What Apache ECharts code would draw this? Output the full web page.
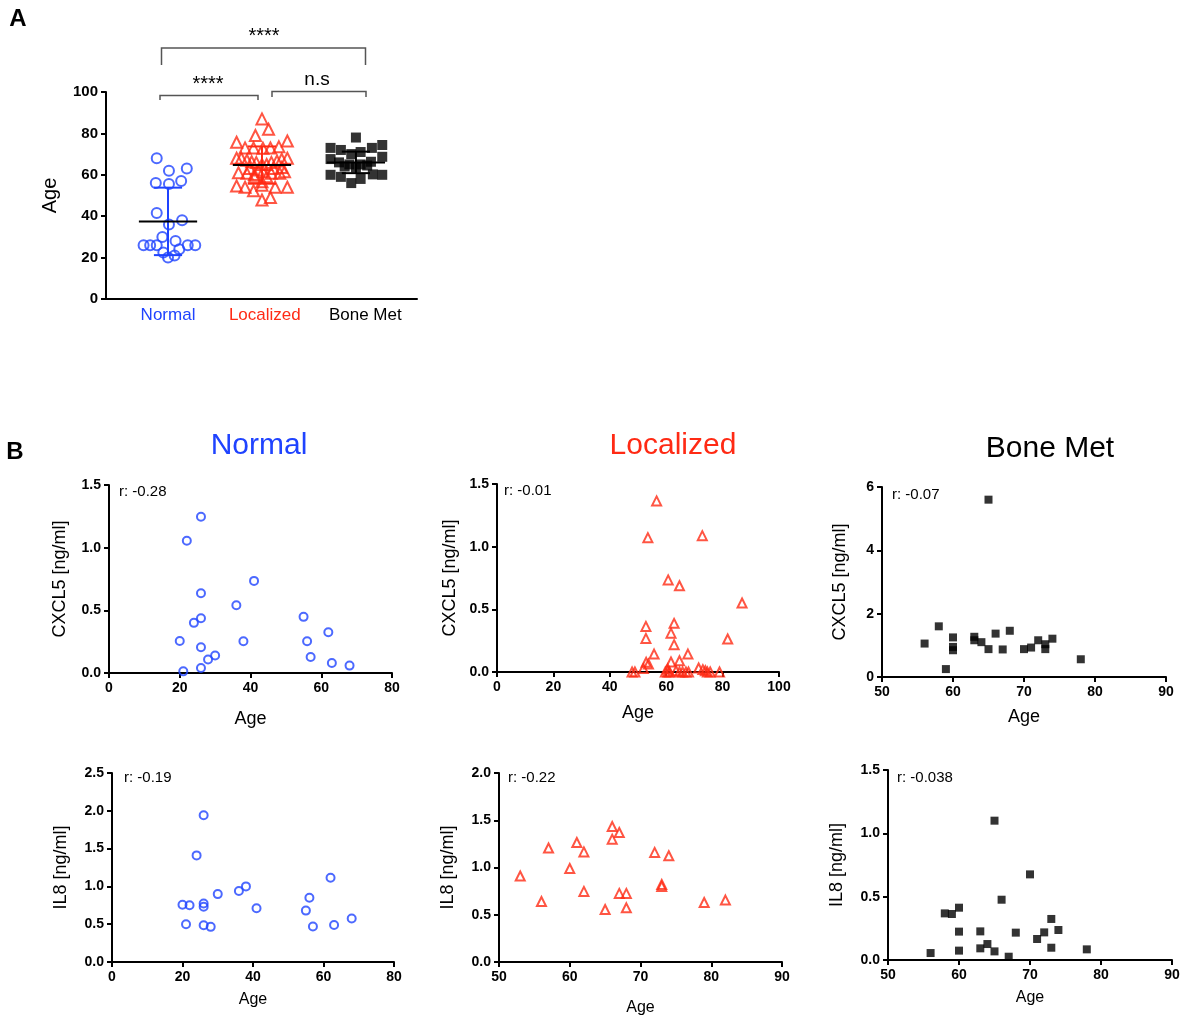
<!DOCTYPE html>
<html><head><meta charset="utf-8">
<script src="https://cdn.jsdelivr.net/npm/echarts@6/dist/echarts.min.js"></script>
<style>html,body{margin:0;padding:0;background:#fff}#c{width:1183px;height:1017px}</style>
</head><body><div id="c"></div>
<script>
// ---------- DATA ----------
const groupNames = ['Normal', 'Localized', 'Bone Met'];
// Panel A: ages per group and horizontal jitter (category units)
const normalAge = [68,62,63,56,55.5,57,41.5,36,38,30,28,26,26,26,26,26,22.5,24,20,21];
const normalJit = [-0.12,0.01,0.2,-0.13,0.01,0.14,-0.12,0.01,0.15,-0.06,0.08,-0.26,-0.19,-0.12,0.21,0.29,-0.05,0.12,0,0.07];
const localizedAge = [87,82,79,75.7,76.3,73,73,72.8,73,73.5,68,68,68,67,67.5,66.3,66.7,65.9,66,65,65,61,60.7,60.2,61.5,60.7,60.7,61.5,59,59,56.7,54.6,54,52.3,54,54,55,47.8,49,63.1,63.1,62.3,63.5];
const localizedJit = [0,0.07,-0.07,-0.27,0.27,-0.18,-0.09,0.01,0.09,0.18,-0.27,-0.22,0.27,-0.16,0.21,-0.11,0.16,-0.06,0.1,0,0.05,-0.25,-0.16,-0.08,0.01,0.1,0.19,0.24,-0.08,0.05,0,-0.27,-0.18,-0.09,0.14,0.27,0,0,0.09,-0.13,0.12,-0.04,0.21];
const boneAge = [78,73,72,70,71,73,74.4,67.6,66,65,65,66.3,68.7,63.5,64.5,64,60,59,56,58,60.2,60];
const boneJit = [0,-0.27,-0.16,-0.05,0.05,0.17,0.28,-0.27,-0.18,-0.07,0.05,0.16,0.28,0,0.12,-0.12,-0.27,-0.16,-0.05,0.05,0.18,0.28];
const groupMean = [37.5, 64.7, 66.0];
const groupSD = [16.3, 9.0, 5.2];
const sigLabels = ['****', '****', 'n.s'];
// Panel B: [age, concentration ng/ml]
const normalCxcl5 = [[20,0.256],[21,0.013],[22,1.055],[24,0.40],[26,1.247],[26,0.637],[26,0.437],[26,0.205],[26,0.04],[28,0.107],[30,0.139],[36,0.54],[38,0.253],[41,0.735],[55,0.448],[56,0.253],[57,0.128],[62,0.325],[63,0.08],[68,0.059]];
const localizedCxcl5 = [[56.6,1.365],[53.5,1.072],[72.8,1.088],[60.7,0.735],[64.7,0.688],[86.9,0.55],[52.8,0.364],[62.8,0.388],[61.7,0.31],[52.8,0.268],[81.8,0.263],[62.8,0.218],[55.7,0.143],[67.7,0.143],[61.7,0.08],[64.7,0.09],[52.9,0.077],[53.7,0.064],[51.9,0.027],[71.5,0.032],[73,0.019],[73.9,0.01],[75.6,0],[47.9,0],[48.9,0],[59.7,0],[60.6,0],[61.2,0],[63.5,0.01],[64.7,0],[65.8,0],[67,0],[67.9,0],[74.6,0],[78.9,0],[60.5,0.024]];
const boneCxcl5 = [[56,1.056],[58,1.6],[59,0.25],[60,1.25],[60,0.95],[60,0.845],[63,1.27],[63,1.16],[64,1.1],[65,5.6],[65,0.88],[66,1.37],[67,0.87],[68,1.46],[70,0.88],[71,0.93],[72,1.16],[73,1.035],[73,0.88],[74,1.21],[78,0.56]];
const normalIl8 = [[20,0.757],[22,0.75],[21,0.5],[24,1.41],[26,1.94],[26,0.774],[26,0.73],[26,0.487],[28,0.465],[30,0.898],[36,0.94],[38,1.0],[41,0.71],[55,0.68],[56,0.85],[57,0.47],[62,1.115],[63,0.49],[68,0.575]];
const localizedIl8 = [[53,0.91],[56,0.64],[57,1.207],[60,0.99],[61,1.264],[62,1.165],[62,0.747],[65,0.556],[66,1.434],[66,1.30],[67,1.37],[67,0.726],[68,0.726],[68,0.573],[72,1.16],[74,1.125],[73,0.82],[73,0.80],[79,0.63],[82,0.655]];
const boneIl8 = [[56,0.055],[58,0.368],[59,0.363],[60,0.413],[60,0.224],[60,0.074],[63,0.226],[63,0.092],[64,0.126],[65,1.10],[65,0.068],[66,0.476],[67,0.026],[68,0.216],[70,0.676],[71,0.166],[72,0.218],[73,0.324],[73,0.097],[74,0.237],[78,0.084]];
const rValues = ['-0.28', '-0.01', '-0.07', '-0.19', '-0.22', '-0.038'];

// ---------- STYLE ----------
const FONT = '"Liberation Sans", Arial, Helvetica, sans-serif';
const BLUE = '#1f43ff', RED = '#ff2a14', BLACK = '#000';
const groupColors = [BLUE, RED, BLACK];

const chart = echarts.init(document.getElementById('c'));

const axisLine = {show: true, onZero: false, lineStyle: {color: '#000', width: 2}};
const axisTick = {show: true, inside: false, length: 5, lineStyle: {color: '#000', width: 2}};
const lblStyle = {color: '#000', fontWeight: 'bold', fontSize: 14, fontFamily: FONT, margin: 8};

const grids = [
  {left: 106, top: 92, width: 311, height: 207},
  {left: 109, top: 485, width: 283, height: 188},
  {left: 497, top: 484, width: 282, height: 188},
  {left: 882, top: 487, width: 284, height: 190},
  {left: 112, top: 773, width: 282, height: 189},
  {left: 499, top: 773, width: 283, height: 189},
  {left: 888, top: 770, width: 284, height: 190}
];

function xAx(gi, min, max, interval, gap, fs) {
  return {type: 'value', gridIndex: gi, min, max, interval, name: 'Age', nameLocation: 'middle', nameGap: gap,
    nameTextStyle: {color: '#000', fontSize: fs, fontFamily: FONT},
    axisLine, axisTick, axisLabel: lblStyle, splitLine: {show: false}};
}
function yAx(gi, max, interval, name, gap, dec) {
  return {type: 'value', gridIndex: gi, min: 0, max, interval, name, nameLocation: 'middle', nameGap: gap,
    nameTextStyle: {color: '#000', fontSize: 18, fontFamily: FONT},
    axisLine, axisTick, splitLine: {show: false},
    axisLabel: Object.assign({}, lblStyle, {formatter: v => dec ? v.toFixed(1) : String(v)})};
}

const xAxes = [
  {type: 'value', gridIndex: 0, min: -0.66, max: 2.65, axisLine, axisTick: {show: false}, splitLine: {show: false},
   axisLabel: {customValues: [0, 1.03, 2.1], margin: 8, fontSize: 17, fontFamily: FONT,
     formatter: v => { const i = Math.round(v); return '{g' + i + '|' + groupNames[i] + '}'; },
     rich: {g0: {color: BLUE, fontSize: 17, fontFamily: FONT}, g1: {color: RED, fontSize: 17, fontFamily: FONT}, g2: {color: BLACK, fontSize: 17, fontFamily: FONT}}}},
  xAx(1, 0, 80, 20, 37, 18),
  xAx(2, 0, 100, 20, 32, 18),
  xAx(3, 50, 90, 10, 31, 18),
  xAx(4, 0, 80, 20, 30, 16),
  xAx(5, 50, 90, 10, 38, 16),
  xAx(6, 50, 90, 10, 30, 16)
];
const yAxes = [
  {type: 'value', gridIndex: 0, min: 0, max: 100, interval: 20, name: 'Age', nameLocation: 'middle', nameGap: 46,
   nameTextStyle: {color: '#000', fontSize: 20, fontFamily: FONT},
   axisLine, axisTick, splitLine: {show: false}, axisLabel: Object.assign({}, lblStyle, {fontSize: 15})},
  yAx(1, 1.5, 0.5, 'CXCL5 [ng/ml]', 40, true),
  yAx(2, 1.5, 0.5, 'CXCL5 [ng/ml]', 38, true),
  yAx(3, 6, 2, 'CXCL5 [ng/ml]', 33, false),
  yAx(4, 2.5, 0.5, 'IL8 [ng/ml]', 42, true),
  yAx(5, 2.0, 0.5, 'IL8 [ng/ml]', 42, true),
  yAx(6, 1.5, 0.5, 'IL8 [ng/ml]', 42, true)
];

const hollow = c => ({color: 'rgba(0,0,0,0)', borderColor: c, borderWidth: 2});
function jitterData(ages, jit, gi) { return ages.map((a, k) => [gi + jit[k], a]); }

const series = [
  {type: 'scatter', xAxisIndex: 0, yAxisIndex: 0, symbol: 'circle', symbolSize: 10, itemStyle: hollow(BLUE), data: jitterData(normalAge, normalJit, 0)},
  {type: 'scatter', xAxisIndex: 0, yAxisIndex: 0, symbol: 'triangle', symbolSize: 11, itemStyle: hollow(RED), data: jitterData(localizedAge, localizedJit, 1)},
  {type: 'scatter', xAxisIndex: 0, yAxisIndex: 0, symbol: 'rect', symbolSize: 10, itemStyle: {color: BLACK}, data: jitterData(boneAge, boneJit, 2)},
  {type: 'custom', xAxisIndex: 0, yAxisIndex: 0, z: 10,
   data: groupMean.map((m, i) => [i, m, groupSD[i]]),
   renderItem: (params, api) => {
     const i = api.value(0), m = api.value(1), sd = api.value(2);
     const c = groupColors[i];
     const p = (x, y) => api.coord([x, y]);
     const line = (a, b, col) => ({type: 'line', shape: {x1: a[0], y1: a[1], x2: b[0], y2: b[1]}, style: {stroke: col, lineWidth: 2}});
     return {type: 'group', children: [
       line(p(i, m - sd), p(i, m + sd), c),
       line(p(i - 0.15, m + sd), p(i + 0.15, m + sd), c),
       line(p(i - 0.15, m - sd), p(i + 0.15, m - sd), c),
       line(p(i - 0.31, m), p(i + 0.31, m), BLACK)
     ]};
   }},
  {type: 'scatter', xAxisIndex: 1, yAxisIndex: 1, symbol: 'circle', symbolSize: 8, itemStyle: hollow(BLUE), data: normalCxcl5},
  {type: 'scatter', xAxisIndex: 2, yAxisIndex: 2, symbol: 'triangle', symbolSize: 9, itemStyle: hollow(RED), data: localizedCxcl5},
  {type: 'scatter', xAxisIndex: 3, yAxisIndex: 3, symbol: 'rect', symbolSize: 8, itemStyle: {color: BLACK}, data: boneCxcl5},
  {type: 'scatter', xAxisIndex: 4, yAxisIndex: 4, symbol: 'circle', symbolSize: 8, itemStyle: hollow(BLUE), data: normalIl8},
  {type: 'scatter', xAxisIndex: 5, yAxisIndex: 5, symbol: 'triangle', symbolSize: 9, itemStyle: hollow(RED), data: localizedIl8},
  {type: 'scatter', xAxisIndex: 6, yAxisIndex: 6, symbol: 'rect', symbolSize: 8, itemStyle: {color: BLACK}, data: boneIl8}
];
series.forEach(s => { if (s.type === 'scatter') { s.clip = false; s.silent = true; } });

const txt = (x, y, text, size, color, opts) => ({type: 'text', x, y, style: {text, fill: color || '#000', font: (opts && opts.bold ? 'bold ' : '') + size + 'px ' + FONT, textAlign: (opts && opts.align) || 'center', textVerticalAlign: 'middle'}});
const bracket = (x1, x2, yTop, yLeg) => ({type: 'polyline', shape: {points: [[x1, yLeg], [x1, yTop], [x2, yTop], [x2, yLeg]]}, style: {stroke: '#555', lineWidth: 1.5, fill: null}});

const rPos = [[119, 492], [504, 491], [892, 495], [124, 778], [508, 778], [897, 778]];
const graphic = [
  txt(18, 19, 'A', 24, '#000', {bold: true}),
  txt(15, 452, 'B', 24, '#000', {bold: true}),
  bracket(161.5, 365.5, 48, 65),
  bracket(160, 258, 95.5, 100),
  bracket(272, 366, 91.5, 97),
  txt(264, 36, sigLabels[0], 20),
  txt(208, 84, sigLabels[1], 20),
  txt(317, 80, sigLabels[2], 19),
  txt(259, 446, groupNames[0], 30, BLUE),
  txt(673, 446, groupNames[1], 30, RED),
  txt(1050, 449, groupNames[2], 30, BLACK)
].concat(rValues.map((r, i) => txt(rPos[i][0], rPos[i][1], 'r: ' + r, 15, '#000', {align: 'left'})));

chart.setOption({
  animation: false,
  backgroundColor: '#fff',
  grid: grids,
  xAxis: xAxes,
  yAxis: yAxes,
  series,
  graphic
});
</script></body></html>
